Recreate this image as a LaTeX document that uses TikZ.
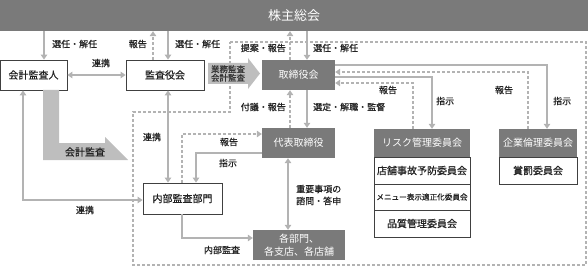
\documentclass[tikz,border=0pt]{standalone}
\usepackage{fontspec}
\setmainfont{Noto Sans CJK JP}
\newfontfamily\lblfont{Noto Sans CJK JP}[FakeBold=0.6]
\usetikzlibrary{arrows.meta,calc}
\definecolor{dgray}{HTML}{7A7A7A}
\definecolor{lgray}{HTML}{B3B3B3}
\definecolor{agray}{HTML}{BEBEBE}
\definecolor{tgray}{HTML}{222222}
\begin{document}
\begin{tikzpicture}[x=1pt,y=-1pt,
  >={Triangle[length=5pt,width=6.5pt]},
  dbox/.style={rectangle,fill=dgray,text=white,inner sep=0pt,font=\fontsize{10}{12}\selectfont},
  wbox/.style={rectangle,draw=black!75,line width=0.8pt,fill=white,inner sep=0pt,text=tgray,font=\lblfont\fontsize{10}{12}\selectfont},
  conn/.style={draw=lgray,line width=2pt},
  dconn/.style={draw=lgray,line width=2pt,dash pattern=on 3pt off 2pt},
  lbl/.style={inner sep=0pt,text=tgray,font=\lblfont\fontsize{9}{11}\selectfont}
]
\useasboundingbox (0,0) rectangle (588,267);

% dashed enclosure
\draw[dconn] (230,42) -- (586,42) -- (586,265) -- (133,265) -- (133,112) -- (230,112) -- cycle;

% nodes
\node[dbox,minimum width=588pt,minimum height=31pt,font=\fontsize{13}{15}\selectfont] (top) at (294,15.5) {株主総会};
\node[wbox,minimum width=67pt,minimum height=30pt] (kaikei) at (33.5,75) {会計監査人};
\node[wbox,minimum width=78pt,minimum height=30pt] (kansa) at (165,75) {監査役会};
\node[dbox,minimum width=73pt,minimum height=30pt] (tori) at (298.5,75) {取締役会};
\node[dbox,minimum width=73pt,minimum height=30pt] (daihyo) at (298.5,143) {代表取締役};
\node[wbox,minimum width=79pt,minimum height=31pt] (naibu) at (182.5,198.5) {内部監査部門};
\node[dbox,minimum width=92pt,minimum height=30pt,align=center,font=\fontsize{10}{12.5}\selectfont] (kakubu) at (299,245) {各部門、\\各支店、各店舗};
\node[dbox,minimum width=96pt,minimum height=28pt] (risk) at (422,143) {リスク管理委員会};
\node[wbox,minimum width=96pt,minimum height=27pt] (risk1) at (422,170.5) {店舗事故予防委員会};
\node[wbox,minimum width=96pt,minimum height=26pt,font=\lblfont\fontsize{7.6}{9}\selectfont] (risk2) at (422,197) {メニュー表示適正化委員会};
\node[wbox,minimum width=96pt,minimum height=27pt] (risk3) at (422,223.5) {品質管理委員会};
\node[dbox,minimum width=78pt,minimum height=28pt] (kigyo) at (538,143) {企業倫理委員会};
\node[wbox,minimum width=78pt,minimum height=27pt] (shobatsu) at (538,170.5) {賞罰委員会};

% big arrows
\fill[agray] (208,63) -- (248,63) -- (248,58) -- (260,73.5) -- (248,89) -- (248,84) -- (208,84) -- cycle;
\node[lbl,align=center,font=\lblfont\fontsize{8.5}{8.5}\selectfont,text=black!80] (gyomu) at (228,73.5) {業務監査\\会計監査};
\fill[agray] (43,90) -- (59,90) -- (59,143) -- (105,143) -- (105,137) -- (128,160) -- (43,160) -- cycle;
\node[lbl,font=\lblfont\fontsize{10}{12}\selectfont] (kaikeikansa) at (85,152) {会計監査};

% x / y positions
\coordinate (cx23) at (23,0);
\coordinate (cx44) at (44,0);
\coordinate (cx153) at (153,0);
\coordinate (cx168) at (168,0);
\coordinate (cx182) at (182,0);
\coordinate (cx196) at (196,0);
\coordinate (cx288) at (288,0);
\coordinate (cx290) at (290,0);
\coordinate (cx307) at (307,0);
\coordinate (cx413) at (413,0);
\coordinate (cx432) at (432,0);
\coordinate (cx528) at (528,0);
\coordinate (cx547) at (547,0);
\coordinate (cy65) at (0,65);
\coordinate (cy72) at (0,72);
\coordinate (cy77) at (0,77);
\coordinate (cy83) at (0,83);
\coordinate (cy134) at (0,134);
\coordinate (cy153) at (0,153);
\coordinate (cy200) at (0,200);
\coordinate (cy238) at (0,238);

% connectors
\draw[conn,->] (top.south -| cx44) -- (kaikei.north -| cx44);
\draw[dconn,->] (kansa.north -| cx153) -- (top.south -| cx153);
\draw[conn,->] (top.south -| cx168) -- (kansa.north -| cx168);
\draw[dconn,->] (tori.north -| cx290) -- (top.south -| cx290);
\draw[conn,->] (top.south -| cx307) -- (tori.north -| cx307);
\draw[conn,<->] (kaikei.east) -- (kansa.west);
\draw[dconn,->] (daihyo.north -| cx290) -- (tori.south -| cx290);
\draw[conn,->] (tori.south -| cx307) -- (daihyo.north -| cx307);
\draw[conn,->] (tori.east |- cy65) -| (kigyo.north -| cx547);
\draw[dconn,->] (kigyo.north -| cx528) |- (tori.east |- cy72);
\draw[conn,->] (tori.east |- cy77) -| (risk.north -| cx432);
\draw[dconn,->] (risk.north -| cx413) |- (tori.east |- cy83);
\draw[conn,<->] (kansa.south -| cx168) -- (naibu.north -| cx168);
\draw[dconn,->] (naibu.north -| cx182) |- (daihyo.west |- cy134);
\draw[conn,->] (daihyo.west |- cy153) -| (naibu.north -| cx196);
\draw[conn,<->] (kaikei.south -| cx23) |- (naibu.west |- cy200);
\draw[conn,->] (naibu.south -| cx182) |- (kakubu.west |- cy238);
\draw[conn,<->] (daihyo.south -| cx288) -- (kakubu.north -| cx288);

% labels
\node[lbl,anchor=west] (l1) at (52,44) {選任・解任};
\node[lbl,anchor=east] (l2) at (147,44) {報告};
\node[lbl,anchor=west] (l3) at (175,44) {選任・解任};
\node[lbl,anchor=east] (l4) at (286,48) {提案・報告};
\node[lbl,anchor=west] (l5) at (313,48) {選任・解任};
\node[lbl] (l6) at (101,63) {連携};
\node[lbl,anchor=east] (l7) at (286,107) {付議・報告};
\node[lbl,anchor=west] (l8) at (313,107) {選定・解職・監督};
\node[lbl,anchor=west] (l9) at (553,101) {指示};
\node[lbl] (l10) at (504,90) {報告};
\node[lbl,anchor=west] (l11) at (436,101) {指示};
\node[lbl] (l12) at (388,90) {報告};
\node[lbl] (l13) at (152,137) {連携};
\node[lbl] (l14) at (229,142) {報告};
\node[lbl] (l15) at (228,163) {指示};
\node[lbl] (l16) at (85,210) {連携};
\node[lbl] (l17) at (222,250) {内部監査};
\node[lbl,anchor=west,align=left,font=\lblfont\fontsize{9}{12}\selectfont] (l18) at (296,195) {重要事項の\\諮問・答申};
\end{tikzpicture}
\end{document}
